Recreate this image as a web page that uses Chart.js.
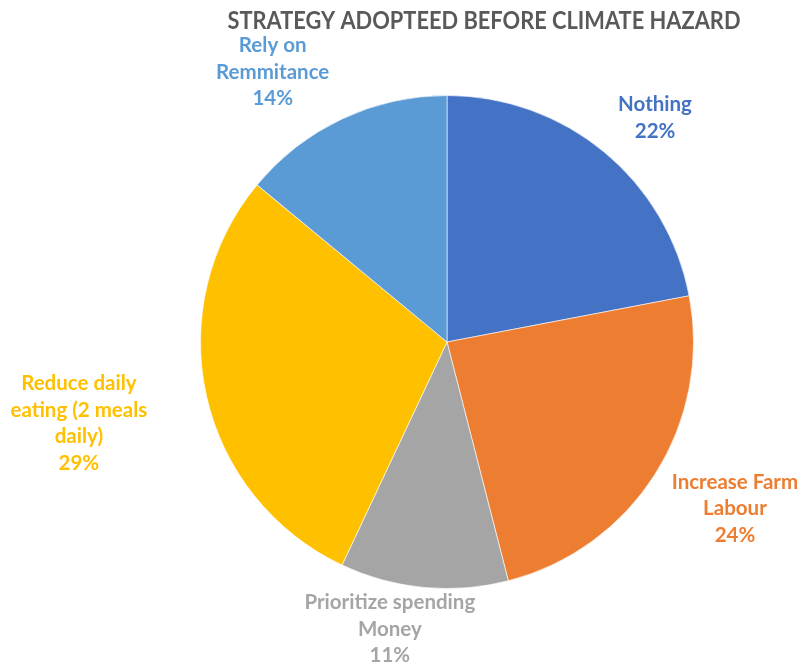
<!DOCTYPE html>
<html>
<head>
<meta charset="utf-8">
<script src="https://cdn.jsdelivr.net/npm/chart.js@4"></script>
<style>
  html, body { margin: 0; padding: 0; background: #fff; }
  #wrap { width: 802px; height: 665px; position: relative; }
</style>
</head>
<body>
<div id="wrap"><canvas id="chart-strategy"></canvas></div>
<script>
/* ── Data ── */
const CHART_TITLE = 'STRATEGY ADOPTEED BEFORE CLIMATE HAZARD';
const categories = [
  ['Nothing'],
  ['Increase Farm', 'Labour'],
  ['Prioritize spending', 'Money'],
  ['Reduce daily', 'eating (2 meals', 'daily)'],
  ['Rely on', 'Remmitance'],
];
const shares = [22, 24, 11, 29, 14];
const colors = ['#4472C4', '#ED7D31', '#A5A5A5', '#FFC000', '#5B9BD5'];

/* ── Label placement tweaks (px, relative to geometric best-fit) ── */
const labelNudge = [[21, -6], [18, 8], [-25, -8], [-51, 14], [-41, -2]];

const FONT = 'Lato, "Open Sans", sans-serif';
const LABEL_SIZE = 20.5;
const LINE_H = 26.5;
const TITLE_W = 513;

/* ── Title + outside labels plugin ── */
const outsideLabels = {
  id: 'outsideLabels',
  afterDraw(chart) {
    const { ctx } = chart;
    ctx.save();
    ctx.font = `bold 25px ${FONT}`;
    ctx.fillStyle = '#595959';
    ctx.textAlign = 'center';
    ctx.textBaseline = 'middle';
    // squeeze the title to the reference width (Lato runs wider than Calibri)
    const tw = ctx.measureText(CHART_TITLE).width;
    ctx.save();
    ctx.translate(484, 21);
    ctx.scale(TITLE_W / tw, 1);
    ctx.fillText(CHART_TITLE, 0, 0);
    ctx.restore();

    const meta = chart.getDatasetMeta(0);
    ctx.font = `bold ${LABEL_SIZE}px ${FONT}`;
    meta.data.forEach((arc, i) => {
      const lines = [...categories[i], shares[i] + '%'];
      const w = Math.max(...lines.map(l => ctx.measureText(l).width));
      const h = lines.length * LINE_H;
      const mid = (arc.startAngle + arc.endAngle) / 2;
      const r = arc.outerRadius + 10;
      const cx = arc.x + Math.cos(mid) * (r + w / 2);
      const cy = arc.y + Math.sin(mid) * (r + h / 2);
      const [nx, ny] = labelNudge[i];
      ctx.fillStyle = colors[i];
      lines.forEach((l, j) => {
        ctx.fillText(l, cx + nx, cy + ny - h / 2 + LINE_H * (j + 0.5));
      });
    });
    ctx.restore();
  },
};

new Chart(document.getElementById('chart-strategy'), {
  type: 'pie',
  data: {
    labels: categories.map(c => c.join(' ')),
    datasets: [{
      data: shares,
      backgroundColor: colors,
      borderColor: 'rgba(255,255,255,0.6)',
      borderWidth: 1,
    }],
  },
  options: {
    responsive: true,
    maintainAspectRatio: false,
    animation: false,
    layout: { padding: { left: 200, right: 108, top: 95, bottom: 76 } },
    plugins: {
      legend: { display: false },
      tooltip: { enabled: false },
      title: { display: false },
    },
  },
  plugins: [outsideLabels],
});
</script>
</body>
</html>
